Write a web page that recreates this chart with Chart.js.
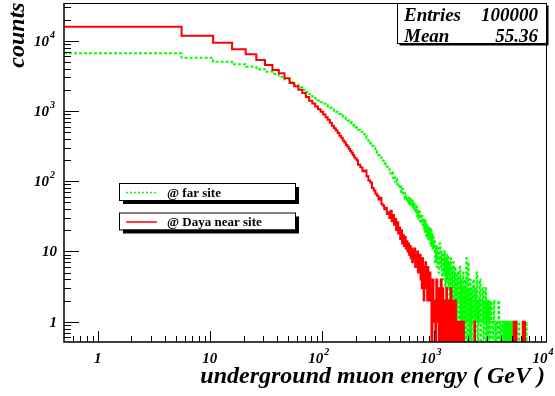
<!DOCTYPE html>
<html>
<head>
<meta charset="utf-8">
<script src="https://cdn.jsdelivr.net/npm/chart.js@4.4.1/dist/chart.umd.min.js"></script>
<style>
  body { margin: 0; background: #fff; }
  #wrap { width: 555px; height: 396px; }
</style>
</head>
<body>
<div id="wrap"><canvas id="muonChart" width="555" height="396"></canvas></div>
<script>
// Histogram bins: lower edges in GeV, the last edge closes the final bin
const nearEdges = [
  0.5, 5.6, 10.7, 15.8, 20.9, 26, 31.1, 36.2, 41.3, 46.4,
  51.5, 56.6, 61.7, 66.8, 71.9, 77, 82.1, 87.2, 92.3, 97.4,
  102.5, 107.6, 112.7, 117.8, 122.9, 128, 133.1, 138.2, 143.3, 148.4,
  153.5, 158.6, 163.7, 168.8, 173.9, 179, 184.1, 189.2, 194.3, 199.4,
  204.5, 210, 220, 230, 240, 250, 260, 270, 280, 290, 300, 310, 320, 330, 340, 350, 360, 370, 380, 390,
  400, 410, 420, 430, 440, 450, 460, 470, 480, 490, 500, 510, 520, 530, 540, 550, 560, 570, 580, 590,
  600, 610, 620, 630, 640, 650, 660, 670, 680, 690, 700, 710, 720, 730, 740, 750, 760, 770, 780, 790,
  800, 810, 820, 830, 840, 850, 860, 870, 880, 890, 900, 910, 920,
  930, 950, 970, 990, 1010, 1030, 1050, 1070, 1090, 1110, 1130, 1150, 1170, 1190, 1210, 1230, 1250, 1270,
  1290, 1310, 1330, 1350, 1370, 1390, 1410, 1430, 1450, 1470, 1490, 1510, 1530, 1550, 1570, 1590, 1610,
  1630, 1650, 1670, 1690, 1710, 1730, 1750, 1770, 1790, 1810, 1830,
  1850, 2300, 2330, 5150, 5190, 5400, 5440, 6200, 6240, 6450, 6490,
  10000
];
const nearCounts = [
  15800, 11800, 9370, 7550, 6400, 5310, 4510, 3830, 3440, 2920,
  2500, 2250, 2000, 1800, 1580, 1400, 1280, 1160, 1060, 970,
  890, 810, 750, 680, 615, 565, 525, 485, 445, 415,
  380, 355, 328, 308, 288, 270, 252, 236, 220, 208,
  198, 172, 158, 138, 142, 118, 102, 96, 80, 74,
  66, 62, 55, 58, 47, 45, 40, 42, 34, 36,
  30, 38, 27, 33, 24, 29, 20, 26, 18, 22,
  15, 20, 13, 17, 12, 16, 11, 14, 10, 13,
  9, 12, 8, 11, 7, 10, 8, 11, 6, 9,
  7, 10, 5, 8, 6, 9, 4, 7, 3, 8,
  5, 2, 6, 4, 7, 3, 5, 2, 6, 3,
  4, 2, 5,
  3, 0, 4, 1, 2, 0, 4, 1, 3, 0, 2, 4, 0, 3, 1, 0, 2, 0, 3, 1, 0, 2, 1, 0, 3, 0, 1, 2,
  1, 0, 1, 2, 0, 1, 0, 1, 1, 0, 1, 0, 0, 1, 0, 1, 0, 1,
  0, 1, 0, 1, 0, 1, 0, 1, 0, 1, 0
];

const farEdges = [
  0.5, 5.6, 10.7, 15.8, 20.9, 26, 31.1, 36.2, 41.3, 46.4,
  51.5, 56.6, 61.7, 66.8, 71.9, 77, 82.1, 87.2, 92.3, 97.4,
  102.5, 107.6, 112.7, 117.8, 122.9, 128, 133.1, 138.2, 143.3, 148.4,
  153.5, 158.6, 163.7, 168.8, 173.9, 179, 184.1, 189.2, 194.3, 199.4,
  204.5, 210, 220, 230, 240, 250, 260, 270, 280, 290, 300, 310, 320, 330, 340, 350, 360, 370, 380, 390,
  400, 410, 420, 430, 440, 450, 460, 470, 480, 490, 500, 510, 520, 530, 540, 550, 560, 570, 580, 590,
  600, 610, 620, 630, 640, 650, 660, 670, 680, 690, 700, 710, 720, 730, 740, 750, 760, 770, 780, 790,
  800, 810, 820, 830, 840, 850, 860, 870, 880, 890, 900, 910, 920, 930, 940, 950, 960, 970, 980, 990,
  1000, 1020, 1040, 1060, 1080, 1100, 1120, 1140, 1160, 1180, 1200, 1220, 1240, 1260, 1280, 1300,
  1320, 1340, 1360, 1380, 1400, 1420, 1440, 1460, 1480,
  1500, 1520, 1540, 1560, 1580, 1600, 1620, 1640, 1660, 1680, 1700, 1720, 1740, 1760, 1780, 1800,
  1820, 1840, 1860, 1880, 1900, 1920, 1940, 1960, 1980, 2000, 2020, 2040, 2060, 2080, 2100, 2120,
  2140, 2160, 2180,
  2200, 2240, 2280, 2320, 2360, 2400, 2440, 2480, 2520, 2560, 2600, 2640, 2680, 2720, 2760, 2800,
  2840, 2880, 2920, 2960, 3000, 3040, 3080, 3120, 3160, 3200, 3240,
  3280, 3340, 3400, 3460, 3520, 3580, 3640, 3700, 3760, 3820, 3880, 3940, 4000, 4060, 4120, 4180,
  4240, 4300, 4360, 4420, 4480, 4540, 4600, 4660, 4720, 4780, 4840, 4900,
  4960, 5080, 5120, 5440, 5480, 5740, 5780, 6280, 6320, 6670, 6710,
  10000
];
const farCounts = [
  6620, 5730, 5020, 4610, 4265, 3920, 3620, 3360, 3075, 2820,
  2580, 2380, 2180, 2010, 1860, 1730, 1610, 1500, 1410, 1330,
  1265, 1205, 1160, 1110, 1050, 1010, 970, 940, 905, 865,
  835, 800, 770, 740, 712, 688, 662, 638, 612, 590,
  570, 540, 505, 475, 440, 410, 360, 345, 320, 300,
  275, 255, 235, 220, 205, 195, 180, 172, 160, 152,
  145, 128, 134, 112, 118, 98, 108, 90, 92, 80,
  84, 70, 78, 64, 68, 56, 63, 52, 57, 47,
  58, 46, 55, 43, 52, 40, 48, 37, 45, 35,
  43, 32, 39, 29, 37, 27, 34, 25, 32, 24,
  30, 21, 28, 19, 26, 17, 25, 16, 23, 15,
  22, 14, 21, 13, 20, 12, 18, 11, 17, 12,
  14, 7, 12, 6, 11, 5, 13, 6, 10, 4, 9, 5, 10, 3, 8, 4, 9, 3, 7, 2, 8, 3, 6, 2, 7,
  5, 0, 6, 1, 4, 0, 5, 2, 3, 0, 6, 1, 4, 0, 3, 1, 5, 0, 3, 1, 4, 0, 8, 1, 3, 0, 7, 1, 3, 0, 4, 1, 2, 0, 3,
  1, 4, 0, 3, 1, 5, 0, 2, 1, 4, 0, 2, 1, 3, 0, 2, 1, 3, 0, 2, 1, 0, 2, 1, 0, 2, 1,
  1, 0, 2, 1, 0, 1, 0, 1, 2, 0, 1, 0, 1, 1, 0, 1, 0, 1, 0, 1, 0, 1, 0, 1, 0, 1, 0, 1,
  0, 1, 0, 1, 0, 1, 0, 1, 0, 1, 0
];

const xTicks = [1, 10, 100, 1000, 10000];
const xTickLabels = [['1', ''], ['10', ''], ['10', '2'], ['10', '3'], ['10', '4']];
const yTicks = [1, 10, 100, 1000, 10000];
const yTickLabels = [['1', ''], ['10', ''], ['10', '2'], ['10', '3'], ['10', '4']];
const legendLabels = ['@ far site', '@ Daya near site'];
const statsNames = ['Entries', 'Mean'];
const statsValues = ['100000', '55.36'];
const xTitle = 'underground muon energy ( GeV )';
const yTitle = 'counts';

const X_MIN = 0.5, X_MAX = 10000;
const Y_MIN = 0.514, Y_MAX = 34400;

const NEAR_COLOR = '#ff0000';
const FAR_COLOR = '#00ff00';
const SERIF = '"Liberation Serif", "DejaVu Serif", serif';

// step histogram: one point per bin edge, empty bins dropped below the frame
function histPoints(edges, counts) {
  const pts = counts.map((c, i) => ({ x: Math.max(edges[i], X_MIN), y: c > 0 ? c : Y_MIN / 10 }));
  pts.push({ x: edges[edges.length - 1], y: pts[pts.length - 1].y });
  return pts;
}

function powerLabel(ctx, parts, x, y, align, size) {
  const base = parts[0], exp = parts[1];
  ctx.font = 'italic bold ' + size + 'px ' + SERIF;
  const wb = ctx.measureText(base).width;
  ctx.font = 'italic bold ' + Math.round(size * 0.68) + 'px ' + SERIF;
  const we = exp ? ctx.measureText(exp).width + 1 : 0;
  const w = wb + we;
  let left = x;
  if (align === 'center') left = x - w / 2;
  if (align === 'right') left = x - w;
  ctx.textAlign = 'left';
  ctx.font = 'italic bold ' + size + 'px ' + SERIF;
  ctx.fillText(base, left, y);
  if (exp) {
    ctx.font = 'italic bold ' + Math.round(size * 0.68) + 'px ' + SERIF;
    ctx.fillText(exp, left + wb + 1, y - 8);
  }
}

const rootFrame = {
  id: 'rootFrame',
  afterDatasetsDraw(chart) {
    const { ctx, chartArea: a, scales: { x, y } } = chart;
    ctx.save();
    ctx.fillStyle = '#000';
    ctx.strokeStyle = '#000';

    // top and right edges of the frame
    ctx.lineWidth = 1;
    ctx.beginPath();
    ctx.moveTo(a.left, a.top + 0.5);
    ctx.lineTo(a.right + 0.5, a.top + 0.5);
    ctx.lineTo(a.right + 0.5, a.bottom);
    ctx.stroke();

    // axis lines
    ctx.lineWidth = 1.5;
    ctx.beginPath();
    ctx.moveTo(a.left, a.top);
    ctx.lineTo(a.left, a.bottom);
    ctx.lineTo(a.right + 1, a.bottom);
    ctx.stroke();

    // x ticks, pointing up into the frame
    ctx.lineWidth = 1;
    ctx.beginPath();
    for (let d = 0.1; d <= X_MAX; d *= 10) {
      for (let m = 1; m <= 9; m++) {
        const v = m * d;
        if (v <= X_MIN * 1.001 || v > X_MAX * 1.001) continue;
        const px = Math.round(x.getPixelForValue(v)) + 0.5;
        const len = m === 1 ? 11 : 6;
        ctx.moveTo(px, a.bottom);
        ctx.lineTo(px, a.bottom - len);
      }
    }
    // y ticks, pointing right into the frame
    for (let d = 0.1; d <= Y_MAX; d *= 10) {
      for (let m = 1; m <= 9; m++) {
        const v = m * d;
        if (v <= Y_MIN || v > Y_MAX) continue;
        const py = Math.round(y.getPixelForValue(v)) + 0.5;
        const len = m === 1 ? 15 : 7;
        ctx.moveTo(a.left, py);
        ctx.lineTo(a.left + len, py);
      }
    }
    ctx.stroke();

    // tick labels
    ctx.textBaseline = 'alphabetic';
    xTicks.forEach((v, i) => {
      const px = x.getPixelForValue(v);
      const shift = xTickLabels[i][1] ? -3 : 0;
      powerLabel(ctx, xTickLabels[i], px + shift, a.bottom + 21, 'center', 15);
    });
    yTicks.forEach((v, i) => {
      const py = y.getPixelForValue(v);
      const right = yTickLabels[i][1] ? 55 : 57;
      powerLabel(ctx, yTickLabels[i], right, py + 5, 'right', 15);
    });

    // axis titles
    ctx.font = 'italic bold 24px ' + SERIF;
    ctx.textAlign = 'right';
    ctx.fillText(xTitle, a.right - 1, 383);
    ctx.save();
    ctx.translate(24, 35);
    ctx.rotate(-Math.PI / 2);
    ctx.textAlign = 'center';
    ctx.fillText(yTitle, 0, 0);
    ctx.restore();

    // statistics box with shadow
    const sx = 397, sy = a.top, sw = a.right - sx, sh = 40;
    ctx.fillRect(sx + 2.5, sy + 2.5, sw, sh);
    ctx.fillStyle = '#fff';
    ctx.fillRect(sx, sy, sw, sh);
    ctx.strokeRect(sx + 0.5, sy + 0.5, sw, sh);
    ctx.fillStyle = '#000';
    ctx.font = 'italic bold 19px ' + SERIF;
    statsNames.forEach((name, i) => {
      const by = sy + 18 + i * 20.5;
      ctx.textAlign = 'left';
      ctx.fillText(name, sx + 7, by);
      ctx.textAlign = 'right';
      ctx.fillText(statsValues[i], a.right - 8, by);
    });

    // legend boxes
    const styles = [
      { color: FAR_COLOR, dash: [2, 2] },
      { color: NEAR_COLOR, dash: [] }
    ];
    legendLabels.forEach((label, i) => {
      const bx = 119, by = 183 + i * 29.5, bw = 176, bh = 17;
      ctx.fillStyle = '#000';
      ctx.fillRect(bx + 4, by + 4, bw, bh);
      ctx.fillStyle = '#fff';
      ctx.fillRect(bx, by, bw, bh);
      ctx.lineWidth = 1;
      ctx.setLineDash([]);
      ctx.strokeStyle = '#000';
      ctx.strokeRect(bx + 0.5, by + 0.5, bw, bh);
      ctx.strokeStyle = styles[i].color;
      ctx.lineWidth = 1.5;
      ctx.setLineDash(styles[i].dash);
      ctx.beginPath();
      ctx.moveTo(bx + 7, by + 9.5);
      ctx.lineTo(bx + 38, by + 9.5);
      ctx.stroke();
      ctx.setLineDash([]);
      ctx.fillStyle = '#000';
      ctx.font = 'bold 13px ' + SERIF;
      ctx.textAlign = 'left';
      ctx.fillText(label, bx + 48, by + 13.5);
    });

    ctx.restore();
  }
};

new Chart(document.getElementById('muonChart'), {
  type: 'line',
  data: {
    datasets: [
      {
        label: legendLabels[1],
        data: histPoints(nearEdges, nearCounts),
        borderColor: NEAR_COLOR,
        borderWidth: 2,
        stepped: true,
        pointRadius: 0,
        fill: false
      },
      {
        label: legendLabels[0],
        data: histPoints(farEdges, farCounts),
        borderColor: FAR_COLOR,
        borderWidth: 2,
        borderDash: [3, 2],
        stepped: true,
        pointRadius: 0,
        fill: false
      }
    ]
  },
  options: {
    responsive: false,
    animation: false,
    events: [],
    layout: { padding: { left: 64, right: 9, top: 3, bottom: 54 } },
    plugins: { legend: { display: false }, tooltip: { enabled: false } },
    scales: {
      x: { type: 'logarithmic', min: X_MIN, max: X_MAX, display: false },
      y: { type: 'logarithmic', min: Y_MIN, max: Y_MAX, display: false }
    }
  },
  plugins: [rootFrame]
});
</script>
</body>
</html>
